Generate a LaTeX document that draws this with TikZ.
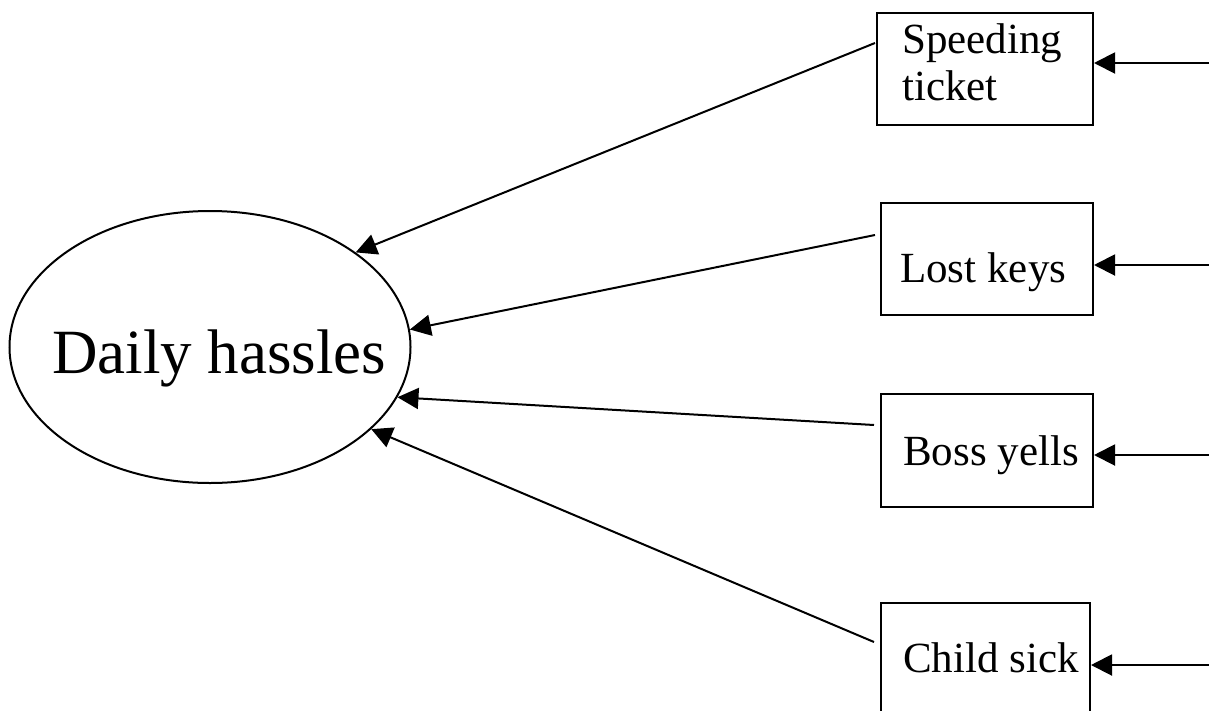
\documentclass[tikz,border=0pt]{standalone}
\usepackage{fontspec}
\setmainfont{Liberation Serif}
\usetikzlibrary{shapes.geometric,arrows.meta}
\begin{document}
\begin{tikzpicture}[x=1pt,y=-1pt,
  box/.style={draw,line width=2pt,rectangle,inner sep=0pt},
  lbl/.style={anchor=base west,inner sep=0pt,font=\fontsize{43}{47}\selectfont},
  arr/.style={line width=2pt,-{Triangle[length=21pt,width=21pt]}}]
\useasboundingbox (0,0) rectangle (1209,710);
% ellipse
\node[draw,ellipse,line width=2pt,minimum width=401pt,minimum height=272pt,inner sep=0pt] (ell) at (210,347) {};
\node[anchor=base west,inner sep=0pt,font=\fontsize{63}{68}\selectfont] (tdh) at (52,373) {Daily hassles};
% boxes
\node[box,minimum width=216pt,minimum height=112pt] (b1) at (985,69) {};
\node[box,minimum width=212pt,minimum height=112pt] (b2) at (987,259) {};
\node[box,minimum width=212pt,minimum height=113pt] (b3) at (987,450.5) {};
\node[box,minimum width=209pt,minimum height=112pt] (b4) at (985.5,659) {};
\node[lbl] (t1a) at (902,53) {Speeding};
\node[lbl] (t1b) at (902,100) {ticket};
\node[lbl] (t2) at (900,282) {Lost keys};
\node[lbl] (t3) at (903,465) {Boss yells};
\node[lbl] (t4) at (903,672) {Child sick};
% free ends on the right
\coordinate (r1) at (1209,63);
\coordinate (r2) at (1209,265);
\coordinate (r3) at (1209,455);
\coordinate (r4) at (1209,665);
\draw[arr] (r1) -- (r1 -| b1.east);
\draw[arr] (r2) -- (r2 -| b2.east);
\draw[arr] (r3) -- (r3 -| b3.east);
\draw[arr] (r4) -- (r4 -| b4.east);
% start points on box left sides
\coordinate (s1) at (875,43);
\coordinate (s2) at (875,235);
\coordinate (s3) at (874,425);
\coordinate (s4) at (874,642);
\draw[arr] (s1) -- (ell.33);
\draw[arr] (s2) -- (ell.5);
\draw[arr] (s3) -- (ell.-15);
\draw[arr] (s4) -- (ell.-27);
\end{tikzpicture}
\end{document}
